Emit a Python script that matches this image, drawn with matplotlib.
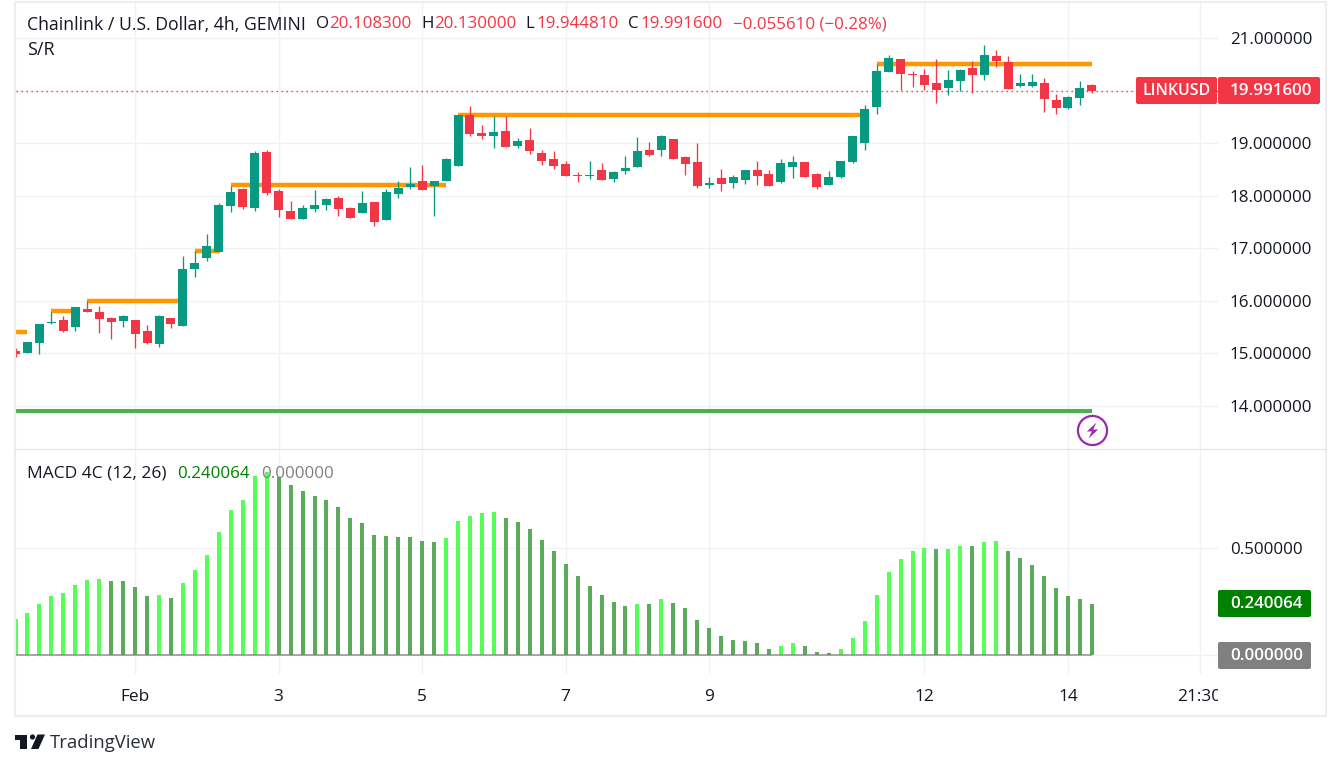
import numpy as np
import matplotlib
matplotlib.use("Agg")
import matplotlib.pyplot as plt
from matplotlib.patches import Rectangle, FancyBboxPatch, Polygon, Circle
from matplotlib.path import Path
from matplotlib.transforms import Bbox

plt.rcParams['font.family'] = ['Open Sans', 'DejaVu Sans']

opens = [15.04,15.00,15.20,15.58,15.63,15.50,15.84,15.79,15.67,15.62,15.63,15.43,15.18,15.67,15.52,16.61,16.82,16.93,17.81,18.13,
 17.77,18.83,18.09,17.71,17.56,17.75,17.83,17.96,17.77,17.67,17.88,17.54,18.03,18.17,18.28,18.19,18.28,18.57,19.54,19.20,
 19.14,19.23,18.95,19.06,18.82,18.70,18.61,18.40,18.38,18.49,18.32,18.47,18.55,18.87,18.87,19.08,18.74,18.64,18.21,18.34,
 18.24,18.30,18.49,18.42,18.26,18.55,18.64,18.42,18.21,18.36,18.65,19.00,19.69,20.35,20.60,20.32,20.30,20.14,20.05,20.18,
 20.43,20.29,20.65,20.54,20.08,20.08,20.14,19.82,19.66,19.85,20.1083]
highs = [15.10,15.22,15.56,15.79,15.71,15.88,16.00,15.90,15.69,15.73,15.63,15.54,15.73,15.67,16.85,16.95,17.27,17.86,18.19,18.15,
 18.85,18.87,18.13,17.90,17.83,18.11,17.96,18.00,17.79,18.09,17.88,18.13,18.28,18.55,18.59,18.28,18.72,19.54,19.71,19.35,
 19.52,19.52,19.10,19.29,18.87,18.85,18.66,18.45,18.66,18.63,18.47,18.76,19.12,19.03,19.16,19.08,18.76,19.01,18.36,18.51,
 18.40,18.49,18.66,18.49,18.70,18.76,18.64,18.43,18.47,18.66,19.14,19.73,20.51,20.68,20.60,20.37,20.41,20.60,20.39,20.41,
 20.56,20.86,20.77,20.66,20.32,20.32,20.24,19.94,19.90,20.18,20.13]
lows = [14.94,15.00,14.99,15.56,15.41,15.43,15.79,15.39,15.27,15.50,15.10,15.18,15.12,15.48,15.52,16.45,16.76,16.93,17.69,17.75,
 17.71,18.01,17.60,17.56,17.56,17.69,17.73,17.62,17.58,17.67,17.43,17.54,17.96,18.13,18.11,17.62,18.28,18.57,19.14,19.08,
 18.91,18.93,18.91,18.80,18.59,18.51,18.38,18.26,18.32,18.30,18.26,18.42,18.55,18.76,18.76,18.70,18.40,18.15,18.15,18.09,
 18.15,18.23,18.21,18.19,18.24,18.34,18.36,18.13,18.21,18.34,18.63,18.87,19.56,20.35,20.01,20.07,20.01,19.76,19.92,19.99,
 19.96,20.20,20.45,20.03,20.06,20.06,19.59,19.56,19.64,19.72,19.94481]
closes = [14.99,15.22,15.56,15.60,15.43,15.88,15.79,15.65,15.60,15.71,15.37,15.20,15.71,15.56,16.61,16.72,17.04,17.83,18.07,17.79,
 18.82,18.05,17.73,17.56,17.77,17.83,17.94,17.75,17.58,17.86,17.50,18.07,18.15,18.23,18.11,18.28,18.70,19.54,19.18,19.14,
 19.22,18.93,19.04,18.85,18.66,18.57,18.38,18.38,18.40,18.30,18.45,18.53,18.85,18.78,19.14,18.70,18.61,18.19,18.24,18.23,
 18.36,18.49,18.38,18.19,18.63,18.64,18.36,18.17,18.36,18.66,19.14,19.65,20.37,20.62,20.32,20.30,20.11,20.01,20.20,20.39,
 20.30,20.67,20.57,20.03,20.14,20.16,19.84,19.66,19.88,20.05,19.9916]
macd = [.167,.195,.237,.275,.289,.327,.351,.355,.346,.346,.318,.275,.280,.266,.336,.398,.469,.577,.681,.728,
 .841,.860,.836,.799,.770,.747,.728,.695,.643,.619,.563,.558,.553,.553,.535,.530,.549,.629,.653,.667,
 .671,.643,.624,.591,.539,.487,.426,.369,.322,.280,.247,.228,.237,.237,.261,.242,.219,.162,.124,.086,
 .068,.063,.053,.025,.039,.053,.039,.011,.006,.025,.077,.157,.280,.388,.450,.487,.502,.497,.497,.511,
 .511,.530,.535,.487,.454,.421,.369,.313,.275,.261,.240064]
macd_bright = [0,1,2,3,4,5,6,7,12,14,15,16,17,18,19,20,21,36,37,38,39,40,52,54,64,65,69,70,71,72,73,74,75,76,78,79,81,82]

sr_levels = [15.41,15.80,16.00,16.94,18.20,19.54,20.51]
sr_starts = [0,3,6,15,18,37,72]
sr_ends = [1,5,14,17,36,71,90]
support_level = 13.90
support_start = 0
support_end = 90
last_price = 19.9916
last_macd = 0.240064

price_ticks = [14,15,16,17,18,19,20,21]
price_tick_labels = ["14.000000","15.000000","16.000000","17.000000","18.000000","19.000000","20.000000","21.000000"]
macd_ticks = [0,0.5]
macd_tick_labels = ["","0.500000"]
time_ticks = [10,22,34,46,58,76,88,99]
time_labels = ["Feb","3","5","7","9","12","14","21:30"]

UP = "#089981"; DOWN = "#F23645"; GRID = "#F0F1F5"; TXT = "#131722"
BRIGHT = "#55FF55"; DARK = "#5CAB5C"; FRAME = "#EDEDF4"

W, H = 1341, 769
fig = plt.figure(figsize=(W/100, H/100), dpi=100, facecolor="white")
PL, PR = 15.5, 1218.0
def axrect(top, bot):
    return [PL/W, 1-bot/H, (PR-PL)/W, (bot-top)/H]
ax = fig.add_axes(axrect(2, 449))
ax2 = fig.add_axes(axrect(449, 673.5))
step = 11.96
xlim = (0, (PR-PL)/step)
ax.set_xlim(*xlim); ax2.set_xlim(*xlim)
ax.set_ylim(14-43/52.57, 21+36/52.57)
ax2.set_ylim(-19/212.4, 205.5/212.4)

AX_FS = 12.2
for a in (ax, ax2):
    for s in a.spines.values():
        s.set_visible(False)
    a.set_xticks(time_ticks)
    a.grid(True, color=GRID, lw=1)
    a.set_axisbelow(True)
    a.yaxis.tick_right()
    a.tick_params(length=0)
ax.tick_params(labelbottom=False)
ax.set_yticks(price_ticks, price_tick_labels, fontsize=AX_FS, color=TXT)
ax2.set_yticks(macd_ticks, macd_tick_labels, fontsize=AX_FS, color=TXT)
ax.tick_params(axis='y', pad=8.6)
ax2.tick_params(axis='y', pad=8.6)
ax2.set_xticks(time_ticks, time_labels, fontsize=12.4, color=TXT)
ax2.tick_params(axis='x', pad=11.5)
clip = Bbox([[0, 0], [PR, H]])
for lab in ax2.get_xticklabels():
    lab.set_clip_box(clip); lab.set_clip_on(True)

o, h, l, c = map(np.array, (opens, highs, lows, closes))
x = np.arange(len(o))
colors = [UP if cc >= oo else DOWN for oo, cc in zip(o, c)]

# support / resistance
for lv, s, e in zip(sr_levels, sr_starts, sr_ends):
    ax.hlines(lv, s, e, color="#FF9800", lw=4.2, alpha=0.25, zorder=2)
    ax.hlines(lv, s, e, color="#FF9800", lw=2.9, zorder=2.1)
ax.hlines(support_level, support_start, support_end, color="#4CAF50", lw=2.9, zorder=2.1)
ax.axhline(last_price, color=DOWN, lw=1.0, ls=(0, (1, 2.6)), zorder=2.2)

# candles
ax.vlines(x, l, h, colors=colors, lw=0.95, zorder=3)
ax.bar(x, np.abs(c-o), bottom=np.minimum(o, c), width=9/step, color=colors, linewidth=0, zorder=3.1)

# bolt marker
mx, my = support_end, 14-(430-406)/52.57
ax.scatter([mx], [my], s=440, facecolor="white", edgecolor="#9C27B0", linewidth=1.6, zorder=4, clip_on=False)
bolt = Path([(0.5,1),(-0.7,-0.12),(-0.08,-0.12),(-0.5,-1),(0.7,0.12),(0.08,0.12),(0.5,1)], closed=True)
ax.scatter([mx], [my], s=132, marker=bolt, color="#9C27B0", linewidth=0, zorder=4.1)

# MACD
m = np.array(macd)
bar_col = [BRIGHT if i in macd_bright else DARK for i in range(len(m))]
ax2.bar(x, m, width=4/step, color=bar_col, linewidth=0, zorder=3)
ax2.hlines(0, 0, support_end, color="#787878", lw=1.1, alpha=0.8, zorder=3.5)

# overlay in pixel space for the chrome
ov = fig.add_axes([0, 0, 1, 1], facecolor="none")
ov.set_xlim(0, W); ov.set_ylim(H, 0); ov.axis("off")
ov.add_patch(Rectangle((15, 1.5), 1311, 714, fill=False, ec=FRAME, lw=1.6))
ov.plot([15, 1326], [449, 449], color="#E3E5EC", lw=0.9)

def T(px, py, s, color=TXT, size=12.2, ha="left", **kw):
    return ov.text(px, py, s, color=color, fontsize=size, ha=ha, va="center", **kw)

T(27, 24.5, "Chainlink / U.S. Dollar, 4h, GEMINI", size=12.7)
for px, s, col in [(316,"O",TXT),(329,"20.108300",DOWN),(421,"H",TXT),(434,"20.130000",DOWN),
                   (525,"L",TXT),(536,"19.944810",DOWN),(628,"C",TXT),(640,"19.991600",DOWN),
                   (733,"\u22120.055610 (\u22120.28%)",DOWN)]:
    T(px, 24.5, s, col)
T(27, 50, "S/R", size=13)
T(27, 474, "MACD 4C (12, 26)", size=12.5)
T(177, 474, "0.240064", "#008000")
T(261, 474, "0.000000", "#808080")

def tag(x0, x1, y0, y1, col):
    ov.add_patch(FancyBboxPatch((x0+2, y0+2), x1-x0-4, y1-y0-4,
                 boxstyle="round,pad=2,rounding_size=2", fc=col, ec="none", zorder=5))
tag(1136, 1217, 77, 104, DOWN)
tag(1218, 1320, 77, 104, DOWN)
T(1176.5, 91, "LINKUSD", "white", 11.4, ha="center", zorder=6, fontweight=600)
T(1230, 91, "19.991600", "white", 12.2, zorder=6, fontweight=600)
tag(1218, 1311, 590, 617, "#008000")
T(1230, 604, "0.240064", "white", 12.2, zorder=6, fontweight=600)
tag(1218, 1311, 642, 669, "#808080")
T(1230, 656, "0.000000", "white", 12.2, zorder=6, fontweight=600)

# TradingView logo
logo = "#131722"
ov.add_patch(Polygon([(15,734.5),(27.5,734.5),(27.5,749),(20,749),(20,739.5),(15,739.5)], closed=True, fc=logo, ec="none"))
ov.add_patch(Circle((32.5,737), 2.6, fc=logo, ec="none"))
ov.add_patch(Polygon([(37.5,734.5),(45,734.5),(38.5,749),(31,749)], closed=True, fc=logo, ec="none"))
T(50, 743.5, "TradingView", "#2A2E39", 13.3)

fig.savefig("out.png", dpi=100)
